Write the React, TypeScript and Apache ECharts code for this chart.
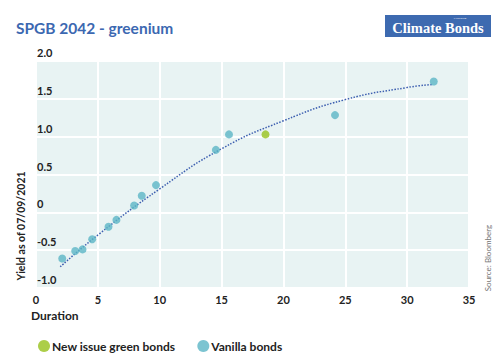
import React, { useEffect, useRef } from "react";
import * as echarts from "echarts";

const greenBonds: [number, number][] = [[18.55, 1.03]];
const vanillaBonds: [number, number][] = [
  [2.12, -0.61],
  [3.17, -0.51],
  [3.76, -0.49],
  [4.54, -0.355],
  [5.86, -0.19],
  [6.5, -0.1],
  [7.93, 0.09],
  [8.55, 0.22],
  [9.7, 0.36],
  [14.54, 0.825],
  [15.6, 1.03],
  [24.17, 1.285],
  [32.15, 1.73],
];
const trendLine: [number, number][] = [
  [1.96, -0.72],
  [5, -0.3],
  [10, 0.31],
  [15, 0.84],
  [20, 1.21],
  [25, 1.49],
  [30, 1.65],
  [32.1, 1.69],
];
const xTicks = [0, 5, 10, 15, 20, 25, 30, 35];
const yTicks = [-1, -0.5, 0, 0.5, 1, 1.5, 2];

const FONT = "Lato";

export default function App() {
  const ref = useRef<HTMLDivElement>(null);
  useEffect(() => {
    if (!ref.current) return;
    const chart = echarts.init(ref.current, null, { renderer: "svg" });
    chart.setOption({
      animation: false,
      backgroundColor: "#ffffff",
      textStyle: { fontFamily: FONT },
      grid: {
        left: 36,
        right: 35,
        top: 61,
        bottom: 73,
        show: true,
        backgroundColor: "#e8f3f3",
        borderWidth: 0,
      },
      xAxis: {
        type: "value",
        min: xTicks[0],
        max: xTicks[xTicks.length - 1],
        interval: 5,
        axisLine: { show: false },
        axisTick: { show: false },
        splitLine: { show: true, lineStyle: { color: "#ffffff", width: 2 } },
        axisLabel: {
          margin: 6,
          fontFamily: FONT,
          fontWeight: "bold",
          fontSize: 11,
          color: "#222222",
        },
      },
      yAxis: {
        type: "value",
        min: yTicks[0],
        max: yTicks[yTicks.length - 1],
        interval: 0.5,
        axisLine: { show: false },
        axisTick: { show: false },
        splitLine: { show: true, lineStyle: { color: "#ffffff", width: 2 } },
        axisLabel: {
          inside: true,
          margin: 1,
          verticalAlign: "bottom",
          padding: [0, 0, 3, 0],
          fontFamily: FONT,
          fontWeight: "bold",
          fontSize: 11,
          color: "#222222",
          formatter: (v: number) => (v === 0 ? "0" : v.toFixed(1)),
        },
      },
      legend: {
        left: 33,
        top: 335,
        icon: "circle",
        itemWidth: 12,
        itemHeight: 12,
        itemGap: 22,
        textStyle: {
          fontFamily: FONT,
          fontWeight: "bold",
          fontSize: 12,
          color: "#222222",
          padding: [0, 0, 0, -3],
        },
        data: ["New issue green bonds", "Vanilla bonds"],
      },
      series: [
        {
          name: "Trend",
          type: "line",
          data: trendLine,
          smooth: true,
          showSymbol: false,
          symbol: "none",
          lineStyle: { color: "#3d5fb0", width: 1.5, type: [1.5, 1.5] },
          z: 2,
        },
        {
          name: "Vanilla bonds",
          type: "scatter",
          data: vanillaBonds,
          symbolSize: 8,
          itemStyle: { color: "#5bb5c6" },
          z: 3,
        },
        {
          name: "New issue green bonds",
          type: "scatter",
          data: greenBonds,
          symbolSize: 8,
          itemStyle: { color: "#97c21c" },
          z: 3,
        },
      ],
      graphic: [
        {
          type: "text",
          left: 16,
          top: 20,
          style: {
            text: "SPGB 2042 - greenium",
            fontFamily: FONT,
            fontWeight: "bold",
            fontSize: 15.5,
            fill: "#3c68b1",
          },
        },
        {
          type: "rect",
          shape: { x: 385, y: 15, width: 106, height: 22 },
          style: { fill: "#3d6ab0" },
        },
        {
          type: "text",
          x: 438,
          y: 27.5,
          style: {
            text: "Climate Bonds",
            fontFamily: "Liberation Serif",
            fontWeight: "bold",
            fontSize: 14.5,
            fill: "#ffffff",
            align: "center",
            verticalAlign: "middle",
          },
        },
        {
          type: "text",
          x: 460,
          y: 18,
          style: {
            text: "INITIATIVE",
            fontFamily: FONT,
            fontSize: 2.5,
            fill: "#ffffff",
            align: "center",
            verticalAlign: "middle",
          },
        },
        {
          type: "text",
          x: 21,
          y: 226,
          rotation: Math.PI / 2,
          style: {
            text: "Yield as of 07/09/2021",
            fontFamily: FONT,
            fontWeight: "bold",
            fontSize: 10.5,
            fill: "#222222",
            align: "center",
            verticalAlign: "middle",
          },
        },
        {
          type: "text",
          left: 31,
          top: 309,
          style: {
            text: "Duration",
            fontFamily: FONT,
            fontWeight: "bold",
            fontSize: 12,
            fill: "#222222",
          },
        },
        {
          type: "text",
          x: 488,
          y: 258,
          rotation: Math.PI / 2,
          style: {
            text: "Source: Bloomberg",
            fontFamily: FONT,
            fontSize: 8,
            fill: "#777777",
            align: "center",
            verticalAlign: "middle",
          },
        },
      ],
    });
    return () => chart.dispose();
  }, []);
  return <div ref={ref} style={{ width: 504, height: 361, position: "absolute", left: 0, top: 0 }} />;
}
